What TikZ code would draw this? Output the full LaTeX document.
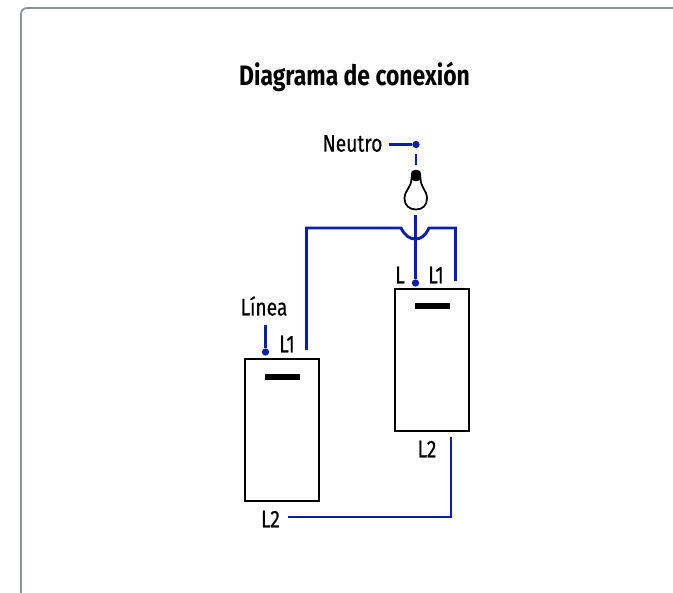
\documentclass[tikz,border=0pt]{standalone}
\usepackage{fontspec}
\setmainfont[FakeStretch=0.815]{Fira Sans}
\newfontfamily\lblfont[FakeStretch=0.80,FakeBold=0.35]{Fira Sans}
\usepackage{xcolor}
\usetikzlibrary{positioning,calc}
\definecolor{wireblue}{HTML}{0C1FA6}
\definecolor{framegray}{HTML}{8A949C}

\begin{document}
\begin{tikzpicture}[
      x=0.03cm, y=-0.03cm,
      switchbox/.style={rectangle, draw, line width=1.5pt, minimum width=2.22cm,
                  minimum height=4.26cm, inner sep=0pt},
      bar/.style={rectangle, fill=black, minimum width=1.05cm, minimum height=0.17cm, inner sep=0pt},
      wire/.style={draw=wireblue, line width=2.5pt},
      dotnode/.style={circle, fill=wireblue, inner sep=0pt, minimum size=0.22cm},
      lbl/.style={font=\lblfont\fontsize{20.5}{23}\selectfont, inner sep=0pt},
    ]

    % Page and frame
    \useasboundingbox (0,0) rectangle (673,593);
    \draw[framegray, line width=1.6pt, rounded corners=5pt] (21,593) -- (21,8) -- (673,8);

    % Title
    \node[font=\fontsize{24}{26}\selectfont\bfseries, inner sep=0pt] (title) at (354.5,77) {Diagrama de conexión};

    % Switches
    \node[switchbox] (sw1) at (282,430) {};
    \node[switchbox] (sw2) at (432,360) {};
    \node[bar] (bar1) at (282.5,377) {};
    \node[bar] (bar2) at (432.5,306) {};

    % Labels
    \node[lbl] (neutro) at (352.5,143.5) {Neutro};
    \node[lbl] (linea) at (264,306) {Línea};
    \node[lbl] (l1a) at (287,344) {L1};
    \node[lbl] (la) at (400,275) {L};
    \node[lbl] (l1b) at (436,275) {L1};
    \node[lbl] (l2b) at (427,449) {L2};
    \node[lbl] (l2a) at (270.5,519) {L2};

    % Dots
    \node[dotnode] (dneutro) at (416,144.5) {};
    \node[dotnode] (dlamp) at (415.5,283) {};
    \node[dotnode] (dlinea) at (265.5,352) {};

    % Wire end points
    \coordinate (neutroend) at (389,144.5);
    \coordinate (lamptop) at (416,165);
    \coordinate (lampbot) at (415.5,215);
    \coordinate (lineatop) at (265.5,325);
    \coordinate (w1) at (306.5,350);
    \coordinate (w2) at (455.5,281);
    \coordinate (w3) at (451,437);
    \coordinate (w4) at (288,517);

    % Lamp
    \draw[line width=1.5pt, fill=white] (411.5,178) .. controls (411.5,188) and (404.5,190) .. (404.5,198.5)
      .. controls (404.5,205.5) and (409.5,209.5) .. (416,209.5)
      .. controls (422.5,209.5) and (427,205.5) .. (427,198.5)
      .. controls (427,190) and (420.5,188) .. (420.5,178) -- cycle;
    \fill[black, rounded corners=3pt] (411,181) -- (411,170) -- (421,170) -- (421,181) -- cycle;

    % Wires
    \draw[wire] (neutroend) -- (dneutro);
    \draw[wire] (dneutro) ++(0,9.5) -- (lamptop);
    \draw[wire] (lampbot) -- (dlamp);
    \draw[wire] (lineatop) -- (dlinea);
    \draw[wire] (w1) -- (306.5,228) -- (401,228) .. controls (405,236) and (410,239) .. (415.5,239)
      .. controls (421,239) and (425,236) .. (429,228) -- (455.5,228) -- (w2);
    \draw[wire] (w3) -- (451,517) -- (w4);

\end{tikzpicture}
\end{document}
